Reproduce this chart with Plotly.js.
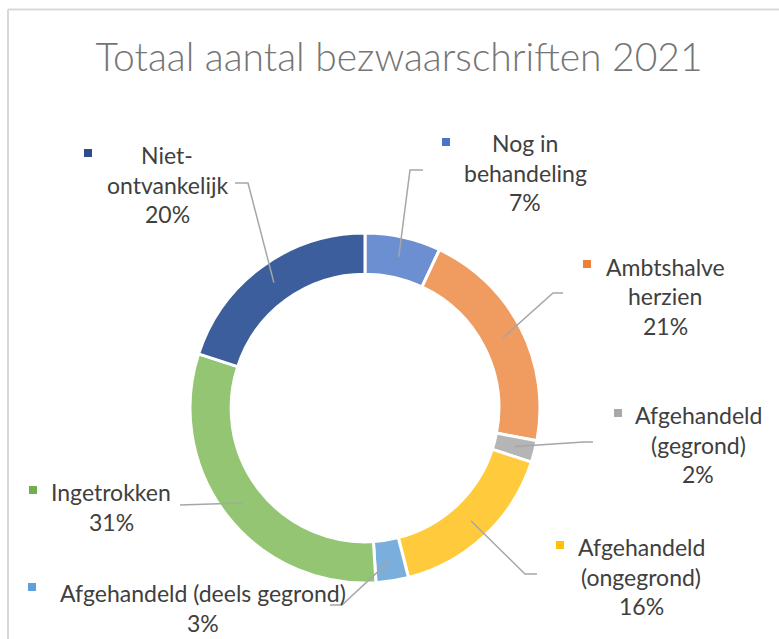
<!DOCTYPE html>
<html>
<head>
<meta charset="utf-8">
<script src="https://cdn.plot.ly/plotly-3.0.1.min.js"></script>
<style>html,body{margin:0;padding:0;background:#fff;}#chart{width:779px;height:639px;}</style>
</head>
<body>
<div id="chart"></div>
<script>
// ---- data ----
const categories = ["Nog in behandeling", "Ambtshalve herzien", "Afgehandeld (gegrond)", "Afgehandeld (ongegrond)", "Afgehandeld (deels gegrond)", "Ingetrokken", "Niet-ontvankelijk"];
const values = [7, 21, 2, 16, 3, 31, 20];
const labelLines = [["Nog in", "behandeling"], ["Ambtshalve", "herzien"], ["Afgehandeld", "(gegrond)"], ["Afgehandeld", "(ongegrond)"], ["Afgehandeld (deels gegrond)"], ["Ingetrokken"], ["Niet-", "ontvankelijk"]];
const titleText = "Totaal aantal bezwaarschriften 2021";

// ---- style ----
const colors = ["#6c8fd1", "#f09b60", "#b5b5b5", "#ffcb3c", "#7aaedd", "#93c572", "#3d5e9c"];
const markerColors = ["#4a74c4", "#ed7f36", "#a8a8a8", "#ffc20c", "#609fd7", "#74ae4c", "#2e4e8a"];
const W = 779, H = 639;
const cx = 365, cy = 408, R = 175, hole = 0.765, rLead = 155;
// label layout (pixel positions)
const labelPos = [
  {x: 525, y: 143, mx: 446, my: 142, pts: [[410, 170], [423, 170]]},
  {x: 665, y: 267, mx: 587, my: 264, pts: [[553, 293], [563, 293]]},
  {x: 698, y: 415, mx: 618, my: 413, pts: [[584, 442], [593, 442]]},
  {x: 641, y: 547, mx: 560, my: 545, pts: [[525, 574], [537, 574]]},
  {x: 203, y: 593, mx: 32, my: 587, pts: [[342, 605], [330, 605]]},
  {x: 111, y: 492, mx: 33, my: 490, pts: [[180, 505]]},
  {x: 167, y: 155, mx: 88, my: 153, pts: [[248, 183], [235, 183]]}
];
const lineGap = 29.5;

const px = x => x / W;
const py = y => 1 - y / H;

const total = values.reduce((a, b) => a + b, 0);
const shapes = [];
const annotations = [];

// frame
shapes.push({type: 'line', xref: 'paper', yref: 'paper', x0: px(8), x1: px(779), y0: py(9.5), y1: py(9.5), line: {color: '#d9d9d9', width: 2}, layer: 'below'});
shapes.push({type: 'line', xref: 'paper', yref: 'paper', x0: px(8), x1: px(8), y0: py(9.5), y1: py(639), line: {color: '#d9d9d9', width: 2}, layer: 'below'});

let cum = 0;
values.forEach((v, i) => {
  const mid = (cum + v / 2) / total;
  cum += v;
  const ang = mid * 2 * Math.PI;
  const sx = cx + rLead * Math.sin(ang);
  const sy = cy - rLead * Math.cos(ang);
  const lp = labelPos[i];
  let path = 'M ' + px(sx) + ' ' + py(sy);
  lp.pts.forEach(p => { path += ' L ' + px(p[0]) + ' ' + py(p[1]); });
  shapes.push({type: 'path', xref: 'paper', yref: 'paper', path: path, line: {color: '#a6a6a6', width: 1.5}, layer: 'above'});
  // marker square
  shapes.push({type: 'rect', xref: 'paper', yref: 'paper', x0: px(lp.mx - 4), x1: px(lp.mx + 4), y0: py(lp.my - 4), y1: py(lp.my + 4), fillcolor: markerColors[i], line: {width: 0}, layer: 'above'});
  const lines = labelLines[i].concat([Math.round(v / total * 100) + '%']);
  lines.forEach((t, k) => {
    annotations.push({xref: 'paper', yref: 'paper', x: px(lp.x), y: py(lp.y + k * lineGap), text: t, showarrow: false, xanchor: 'center', yanchor: 'middle', font: {family: 'Lato, sans-serif', size: 23, color: '#404040'}});
  });
});

const trace = {
  type: 'pie',
  labels: categories,
  values: values,
  hole: hole,
  sort: false,
  direction: 'clockwise',
  rotation: 0,
  textinfo: 'none',
  hoverinfo: 'label+percent',
  marker: {colors: colors, line: {color: '#ffffff', width: 3}},
  domain: {x: [px(cx - R), px(cx + R)], y: [py(cy + R), py(cy - R)]},
  showlegend: false
};

const layout = {
  width: W, height: H,
  margin: {l: 0, r: 0, t: 0, b: 0},
  paper_bgcolor: '#ffffff',
  showlegend: false,
  title: {text: titleText, x: 399 / W, xanchor: 'center', y: py(57), yanchor: 'middle', font: {family: 'Lato, sans-serif', size: 39, weight: 300, color: '#757575'}},
  shapes: shapes,
  annotations: annotations
};

Plotly.newPlot('chart', [trace], layout, {displayModeBar: false, staticPlot: true});
</script>
</body>
</html>
